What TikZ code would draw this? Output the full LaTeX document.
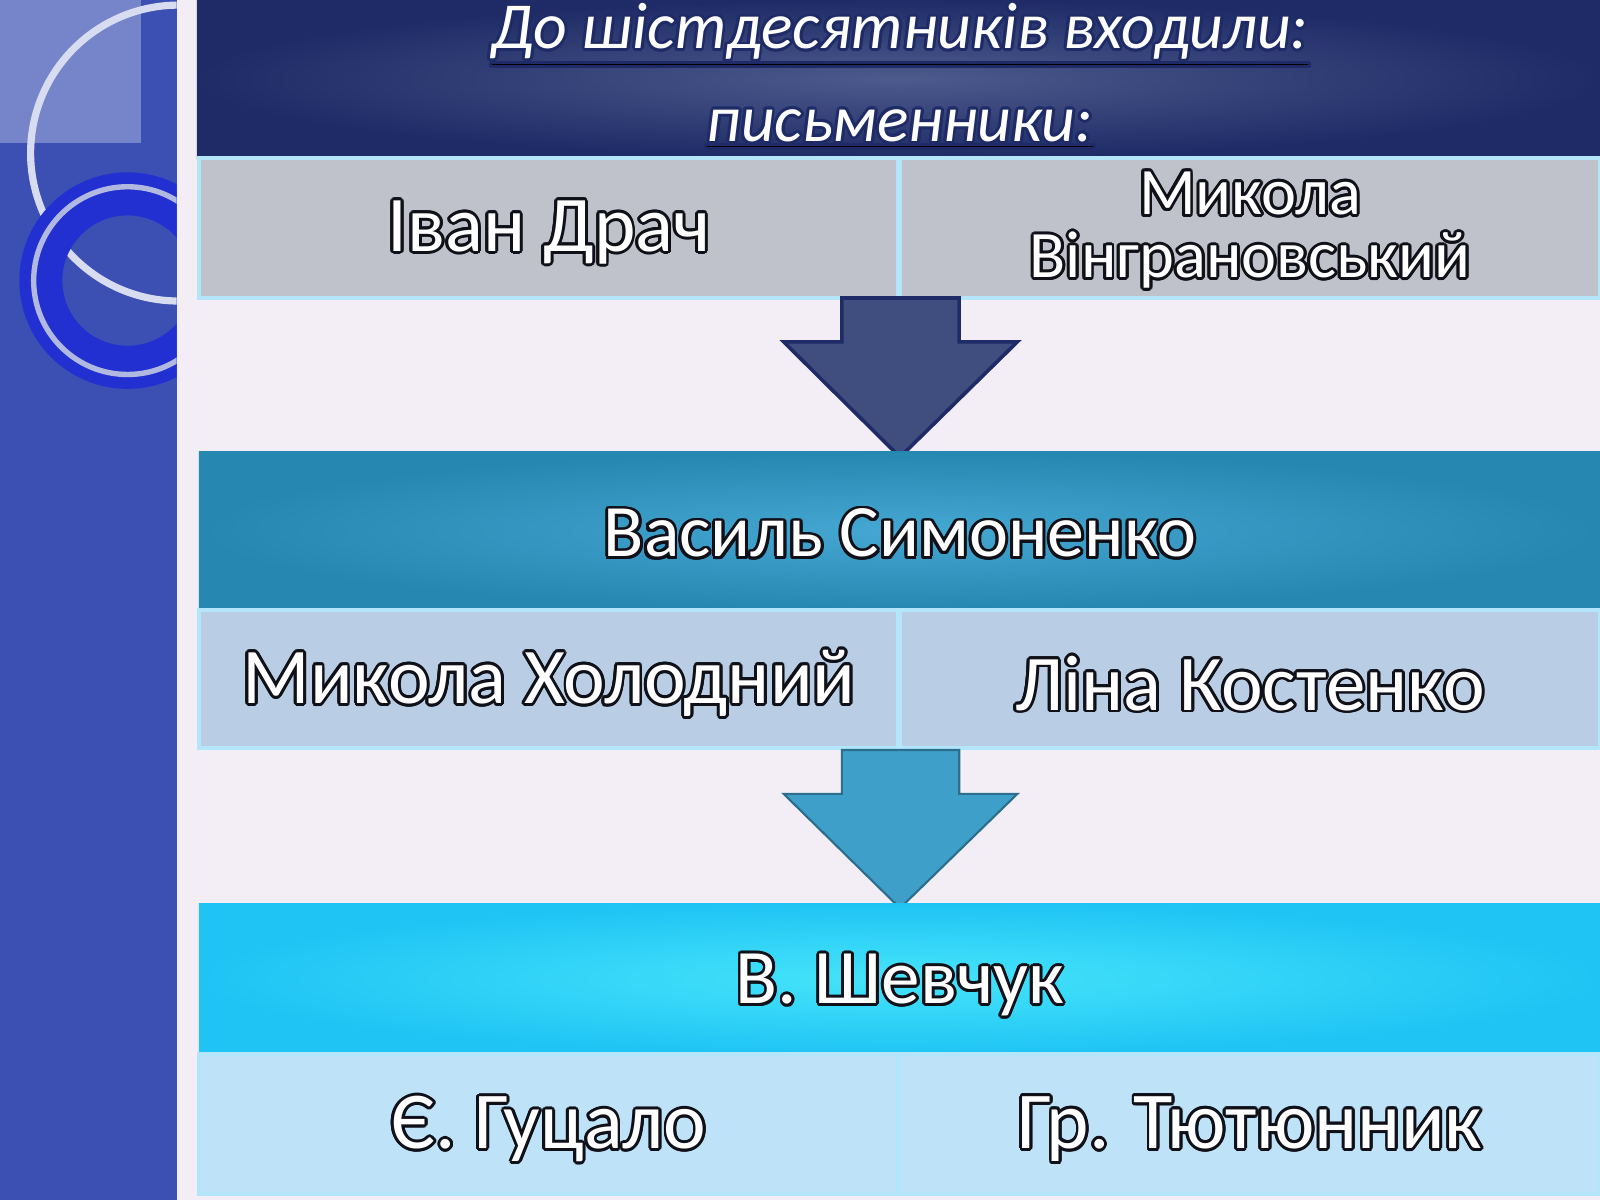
\documentclass[tikz,border=0pt]{standalone}
\usepackage{fontspec}
\setmainfont{Carlito}
\usepackage{contour}
\contournumber{16}
\contourlength{0.8pt}
\definecolor{bg}{HTML}{F3EEF6}
\definecolor{side}{HTML}{3B50B2}
\definecolor{navy}{HTML}{1E2B66}
\definecolor{navyc}{HTML}{4C5A8C}
\definecolor{grayc}{HTML}{BFC2CB}
\definecolor{arr1}{HTML}{3F4E7E}
\definecolor{teal}{HTML}{2687B0}
\definecolor{tealc}{HTML}{45A8D2}
\definecolor{row2}{HTML}{B9CDE4}
\definecolor{arr2}{HTML}{3E9FC8}
\definecolor{cyan1}{HTML}{20C4F4}
\definecolor{cyanc}{HTML}{45E4FA}
\definecolor{row3}{HTML}{BEE2F8}
\definecolor{dark}{HTML}{101018}
\newcommand{\otxt}[1]{\contour{dark}{\textcolor{white}{#1}}}
\tikzset{cell/.style={draw=white!70!cyan,line width=1.2pt},
 lbl/.style={align=center}}
\newcommand{\fs}[1]{\fontsize{#1}{#1}\selectfont}
\begin{document}
\begin{tikzpicture}[x=0.01cm,y=-0.01cm]
\useasboundingbox (0,0) rectangle (1568,1176);
\fill[bg] (0,0) rectangle (1568,1176);
\fill[side] (0,0) rectangle (173,1176);
\begin{scope}
\clip (0,0) rectangle (173,1176);
\fill[white,opacity=0.3] (0,0) rectangle (138,140);
\draw[white!80!side,line width=2pt] (175,150) circle (145);
\draw[blue!40!side,line width=12pt] (125,275) circle (85);
\draw[white!60!side,line width=1.5pt] (125,275) circle (92);
\end{scope}
% header
\shade[inner color=navyc,outer color=navy] (193,0) rectangle (1568,155);
\node (t1) at (882,36) {\fs{18.3}\itshape\contour{navy}{\underline{\textcolor{white}{До шістдесятників входили:}}}};
\node (t2) at (882,128) {\fs{18.3}\itshape\contour{navy}{\underline{\textcolor{white}{письменники:}}}};
% row1
\fill[grayc] (195,155) rectangle (1568,292);
\draw[cell] (195,155) rectangle (880,292) (882,155) rectangle (1568,292);
\node[lbl] (a) at (538,229) {\fs{22}\otxt{Іван Драч}};
\node[lbl] (b) at (1225,227) {\fs{18.5}\otxt{Микола}\\[3pt]\fs{18.5}\otxt{Вінграновський}};
% arrow1
\filldraw[fill=arr1,draw=navy,line width=1pt] (825,292) -- (825,335) -- (768,335) -- (882,448) -- (997,335) -- (940,335) -- (940,292) -- cycle;
% box2
\shade[inner color=tealc,outer color=teal] (195,442) rectangle (1568,598);
\node[lbl] (c) at (882,524) {\fs{20.6}\otxt{Василь Симоненко}};
\fill[row2] (195,598) rectangle (1568,733);
\draw[cell] (195,598) rectangle (880,733) (882,598) rectangle (1568,733);
\node[lbl] (d) at (538,671) {\fs{22}\otxt{Микола Холодний}};
\node[lbl] (e) at (1225,671) {\fs{22}\otxt{Ліна Костенко}};
% arrow2
\filldraw[fill=arr2,draw=arr2!70!black,line width=0.6pt] (825,735) -- (825,778) -- (768,778) -- (882,890) -- (997,778) -- (940,778) -- (940,735) -- cycle;
% box3
\shade[inner color=cyanc,outer color=cyan1] (195,885) rectangle (1568,1033);
\node[lbl] (f) at (882,967) {\fs{21.5}\otxt{В. Шевчук}};
\fill[row3] (195,1033) rectangle (1568,1170);
\draw[cell] (195,1033) rectangle (880,1170) (882,1033) rectangle (1568,1170);
\node[lbl] (g) at (538,1108) {\fs{22.5}\otxt{Є. Гуцало}};
\node[lbl] (h) at (1225,1108) {\fs{22.5}\otxt{Гр. Тютюнник}};
\end{tikzpicture}
\end{document}
